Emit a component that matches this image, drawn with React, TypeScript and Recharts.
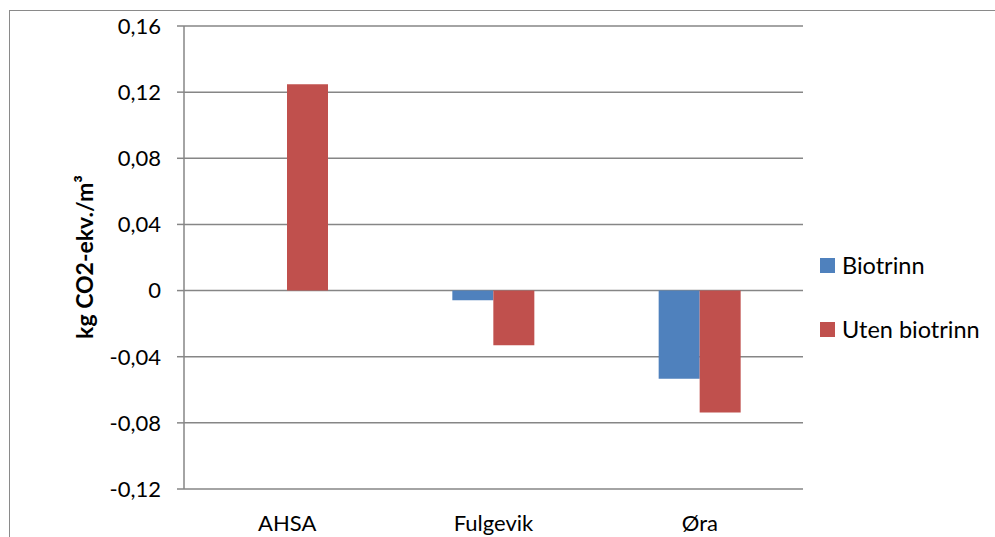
import React from 'react';
import { BarChart, Bar, XAxis, YAxis, CartesianGrid, Label } from 'recharts';

// Emissions per plant, kg CO2-eq per m3
const sites = ['AHSA', 'Fulgevik', 'Øra'];
const biotrinn: (number | null)[] = [null, -0.0058, -0.0533];
const utenBiotrinn = [0.1247, -0.0331, -0.0738];
const yTicks = [-0.12, -0.08, -0.04, 0, 0.04, 0.08, 0.12, 0.16];

const BLUE = '#4F81BD';
const RED = '#C0504D';
const GRID = '#868686';
const FONT = 'Lato, "Open Sans", sans-serif';

const data = sites.map((site, i) => ({
    site,
    bio: biotrinn[i],
    uten: utenBiotrinn[i],
}));

const formatTick = (v: number) => (Math.abs(v) < 1e-9 ? '0' : v.toFixed(2).replace('.', ','));

const legendItems = [
    { name: 'Biotrinn', color: BLUE },
    { name: 'Uten biotrinn', color: RED },
];

const LegendBox: React.FC = () => (
    <div style={{ position: 'absolute', left: 820, top: 248, fontFamily: FONT, fontSize: 23.5, color: '#000' }}>
        {legendItems.map((item) => (
            <div key={item.name} style={{ display: 'flex', alignItems: 'center', height: 34, marginBottom: 30 }}>
                <span style={{ width: 15, height: 15, background: item.color, marginRight: 7, display: 'inline-block' }} />
                <span>{item.name}</span>
            </div>
        ))}
    </div>
);

const AxisTitle = () => (
    <text
        x={84}
        y={257}
        transform="rotate(-90 84 257)"
        textAnchor="middle"
        dominantBaseline="central"
        fontFamily={FONT}
        fontSize={23}
        fontWeight="bold"
        fill="#000"
    >
        kg CO2-ekv./m³
    </text>
);

const App: React.FC = () => {
    return (
        <div style={{ position: 'absolute', left: 0, top: 0, width: 995, height: 537, background: '#fff', overflow: 'hidden' }}>
            <div
                style={{
                    position: 'absolute',
                    left: 9,
                    top: 10,
                    width: 995,
                    height: 540,
                    borderTop: '1.5px solid #8a8a8a',
                    borderLeft: '1.5px solid #8a8a8a',
                }}
            />
            <BarChart
                width={995}
                height={537}
                data={data}
                margin={{ top: 26, right: 192, bottom: 0, left: 0 }}
                barGap={0}
                barSize={41}
                style={{ position: 'absolute', left: 0, top: 0 }}
            >
                <CartesianGrid vertical={false} stroke={GRID} strokeWidth={1.5} />
                <XAxis
                    dataKey="site"
                    height={48}
                    axisLine={false}
                    tickLine={false}
                    tickMargin={20}
                    tick={{ fontFamily: FONT, fontSize: 22, fill: '#000' }}
                />
                <YAxis
                    width={184}
                    domain={[-0.12, 0.16]}
                    ticks={yTicks}
                    interval={0}
                    tickFormatter={formatTick}
                    axisLine={{ stroke: GRID, strokeWidth: 1.5 }}
                    tickLine={{ stroke: GRID, strokeWidth: 1.5 }}
                    tickSize={7}
                    tickMargin={16}
                    tick={{ fontFamily: FONT, fontSize: 22, fill: '#000' }}
                >
                    <Label content={<AxisTitle />} />
                </YAxis>
                <Bar dataKey="bio" name="Biotrinn" fill={BLUE} isAnimationActive={false} />
                <Bar dataKey="uten" name="Uten biotrinn" fill={RED} isAnimationActive={false} />
            </BarChart>
            <LegendBox />
        </div>
    );
};

export default App;
